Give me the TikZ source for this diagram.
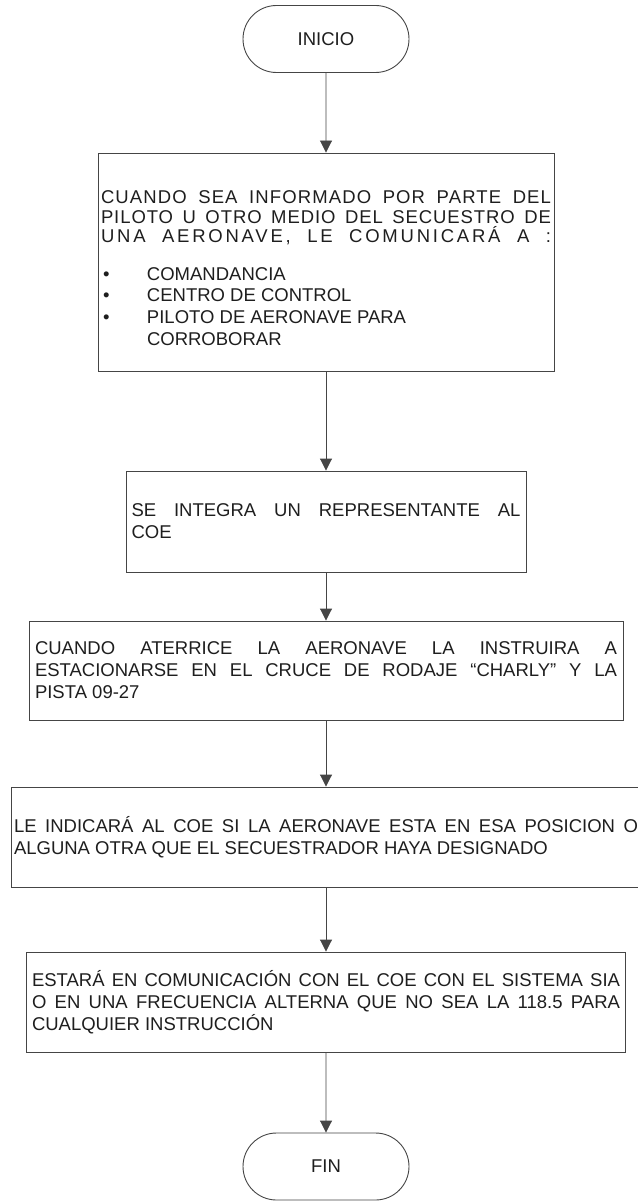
\documentclass[tikz,border=0pt]{standalone}
\usepackage{fontspec}
\setmainfont{Liberation Sans}
\usetikzlibrary{shapes.misc,arrows.meta}
\setlength{\parindent}{0pt}

\definecolor{trazo}{HTML}{454545}
\definecolor{letra}{HTML}{1E1E1E}

\tikzset{
  terminal/.style={rounded rectangle, draw=trazo, line width=0.9pt,
    minimum width=166pt, minimum height=67pt, inner sep=0pt},
  caja/.style={rectangle, draw=trazo, line width=0.9pt, inner sep=0pt, align=justify},
  flecha/.style={draw=trazo, line width=0.9pt, -{Triangle[length=12pt,width=12pt]}}
}

\newcommand{\vineta}[1]{\makebox[46pt][l]{\hspace{2pt}\textbullet}#1}

\begin{document}
\begin{tikzpicture}[x=1pt,y=-1pt,font=\fontsize{18.5}{22}\selectfont,text=letra]
\useasboundingbox (0,0) rectangle (637,1201);

% inicio y fin
\node[terminal] (inicio) at (326,39) {INICIO};
\node[terminal] (fin) at (326,1166.5) {FIN};

% pasos
\node[caja, minimum width=456pt, minimum height=218pt, text width=450pt] (aviso) at (326,262) {%
  {\baselineskip=19.5pt \parfillskip=0pt
  \rule{0pt}{25.5pt}{\addfontfeature{LetterSpace=6}CUANDO SEA INFORMADO POR PARTE DEL}\linebreak
  {\addfontfeature{LetterSpace=5}PILOTO U OTRO MEDIO DEL SECUESTRO DE}\linebreak
  {\addfontfeature{LetterSpace=15}UNA AERONAVE, LE COMUNICARÁ A :}\par}
  \vskip 16.5pt
  \baselineskip=21pt
  \vineta{COMANDANCIA}\par
  \vineta{CENTRO DE CONTROL}\par
  \vineta{PILOTO DE AERONAVE PARA}\\
  \hspace*{46pt}CORROBORAR};
\node[caja, minimum width=400pt, minimum height=101pt, text width=389pt] (coe) at (326,521.5)
  {SE INTEGRA UN REPRESENTANTE AL\linebreak COE};
\node[caja, minimum width=594pt, minimum height=99pt, text width=582pt] (aterrizaje) at (326,670.5)
  {CUANDO ATERRICE LA AERONAVE LA INSTRUIRA A\linebreak
   ESTACIONARSE EN EL CRUCE DE RODAJE “CHARLY” Y LA\linebreak PISTA 09-27};
\node[caja, minimum width=630pt, minimum height=100pt, text width=624pt] (posicion) at (326,837)
  {LE INDICARÁ AL COE SI LA AERONAVE ESTA EN ESA POSICION O\linebreak
   ALGUNA OTRA QUE EL SECUESTRADOR HAYA DESIGNADO};
\node[caja, minimum width=599pt, minimum height=100pt, text width=588pt] (enlace) at (326,1002)
  {ESTARÁ EN COMUNICACIÓN CON EL COE CON EL SISTEMA SIA\linebreak
   O EN UNA FRECUENCIA ALTERNA QUE NO SEA LA 118.5 PARA\linebreak
   CUALQUIER INSTRUCCIÓN};

% flechas
\draw[flecha] (inicio) -- (aviso);
\draw[flecha] (aviso) -- (coe);
\draw[flecha] (coe) -- (aterrizaje);
\draw[flecha] (aterrizaje) -- (posicion);
\draw[flecha] (posicion) -- (enlace);
\draw[flecha] (enlace) -- (fin);
\end{tikzpicture}
\end{document}
